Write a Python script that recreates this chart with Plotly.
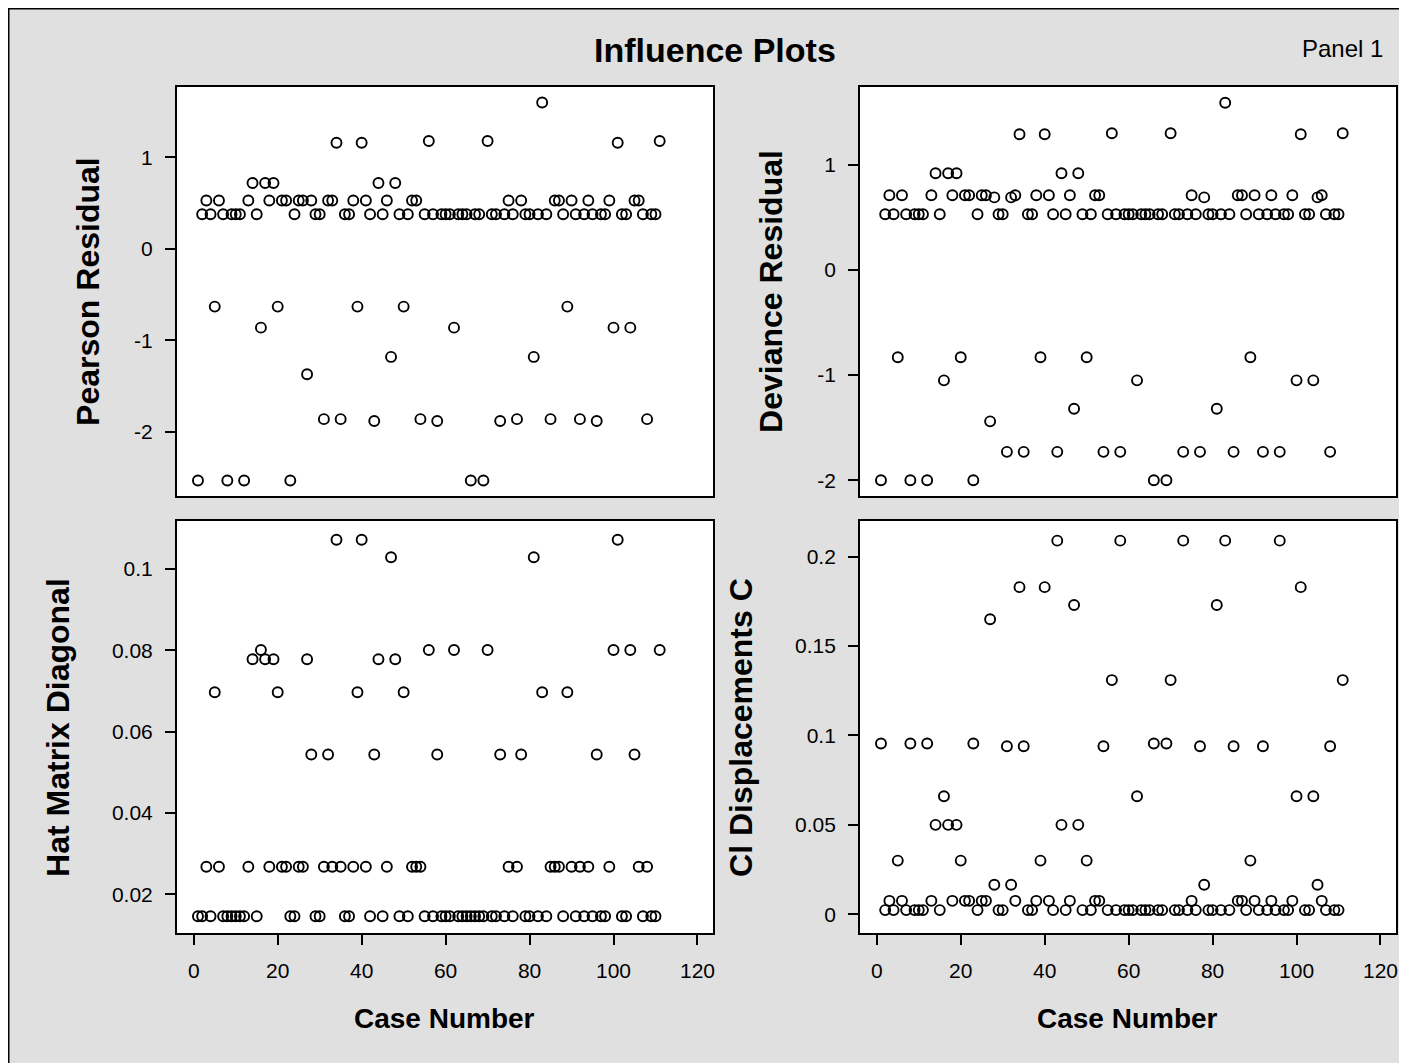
import plotly.graph_objects as go

W, H = 1407, 1063

case_number = list(range(1, 112))

pearson_residual = [
    -2.53, 0.38, 0.53, 0.38, -0.63, 0.53, 0.38, -2.53, 0.38, 0.38,
    0.38, -2.53, 0.53, 0.72, 0.38, -0.86, 0.72, 0.53, 0.72, -0.63,
    0.53, 0.53, -2.53, 0.38, 0.53, 0.53, -1.37, 0.53, 0.38, 0.38,
    -1.86, 0.53, 0.53, 1.16, -1.86, 0.38, 0.38, 0.53, -0.63, 1.16,
    0.53, 0.38, -1.88, 0.72, 0.38, 0.53, -1.18, 0.72, 0.38, -0.63,
    0.38, 0.53, 0.53, -1.86, 0.38, 1.18, 0.38, -1.88, 0.38, 0.38,
    0.38, -0.86, 0.38, 0.38, 0.38, -2.53, 0.38, 0.38, -2.53, 1.18,
    0.38, 0.38, -1.88, 0.38, 0.53, 0.38, -1.86, 0.53, 0.38, 0.38,
    -1.18, 0.38, 1.60, 0.38, -1.86, 0.53, 0.53, 0.38, -0.63, 0.53,
    0.38, -1.86, 0.38, 0.53, 0.38, -1.88, 0.38, 0.38, 0.53, -0.86,
    1.16, 0.38, 0.38, -0.86, 0.53, 0.53, 0.38, -1.86, 0.38, 0.38, 1.18,
]

deviance_residual = [
    -2.00, 0.53, 0.71, 0.53, -0.83, 0.71, 0.53, -2.00, 0.53, 0.53,
    0.53, -2.00, 0.71, 0.92, 0.53, -1.05, 0.92, 0.71, 0.92, -0.83,
    0.71, 0.71, -2.00, 0.53, 0.71, 0.71, -1.44, 0.69, 0.53, 0.53,
    -1.73, 0.69, 0.71, 1.29, -1.73, 0.53, 0.53, 0.71, -0.83, 1.29,
    0.71, 0.53, -1.73, 0.92, 0.53, 0.71, -1.32, 0.92, 0.53, -0.83,
    0.53, 0.71, 0.71, -1.73, 0.53, 1.30, 0.53, -1.73, 0.53, 0.53,
    0.53, -1.05, 0.53, 0.53, 0.53, -2.00, 0.53, 0.53, -2.00, 1.30,
    0.53, 0.53, -1.73, 0.53, 0.71, 0.53, -1.73, 0.69, 0.53, 0.53,
    -1.32, 0.53, 1.59, 0.53, -1.73, 0.71, 0.71, 0.53, -0.83, 0.71,
    0.53, -1.73, 0.53, 0.71, 0.53, -1.73, 0.53, 0.53, 0.71, -1.05,
    1.29, 0.53, 0.53, -1.05, 0.69, 0.71, 0.53, -1.73, 0.53, 0.53, 1.30,
]

hat_diagonal = [
    0.0146, 0.0146, 0.0268, 0.0146, 0.0697, 0.0268, 0.0146, 0.0146, 0.0146, 0.0146,
    0.0146, 0.0146, 0.0268, 0.0778, 0.0146, 0.0801, 0.0778, 0.0268, 0.0778, 0.0697,
    0.0268, 0.0268, 0.0146, 0.0146, 0.0268, 0.0268, 0.0778, 0.0544, 0.0146, 0.0146,
    0.0268, 0.0544, 0.0268, 0.1072, 0.0268, 0.0146, 0.0146, 0.0268, 0.0697, 0.1072,
    0.0268, 0.0146, 0.0544, 0.0778, 0.0146, 0.0268, 0.1029, 0.0778, 0.0146, 0.0697,
    0.0146, 0.0268, 0.0268, 0.0268, 0.0146, 0.0801, 0.0146, 0.0544, 0.0146, 0.0146,
    0.0146, 0.0801, 0.0146, 0.0146, 0.0146, 0.0146, 0.0146, 0.0146, 0.0146, 0.0801,
    0.0146, 0.0146, 0.0544, 0.0146, 0.0268, 0.0146, 0.0268, 0.0544, 0.0146, 0.0146,
    0.1029, 0.0146, 0.0697, 0.0146, 0.0268, 0.0268, 0.0268, 0.0146, 0.0697, 0.0268,
    0.0146, 0.0268, 0.0146, 0.0268, 0.0146, 0.0544, 0.0146, 0.0146, 0.0268, 0.0801,
    0.1072, 0.0146, 0.0146, 0.0801, 0.0544, 0.0268, 0.0146, 0.0268, 0.0146, 0.0146, 0.0801,
]

ci_displacement_c = [
    0.0955, 0.0023, 0.0075, 0.0023, 0.030, 0.0075, 0.0023, 0.0955, 0.0023, 0.0023,
    0.0023, 0.0955, 0.0075, 0.050, 0.0023, 0.066, 0.050, 0.0075, 0.050, 0.030,
    0.0075, 0.0075, 0.0955, 0.0023, 0.0075, 0.0075, 0.165, 0.0165, 0.0023, 0.0023,
    0.094, 0.0165, 0.0075, 0.183, 0.094, 0.0023, 0.0023, 0.0075, 0.030, 0.183,
    0.0075, 0.0023, 0.209, 0.050, 0.0023, 0.0075, 0.173, 0.050, 0.0023, 0.030,
    0.0023, 0.0075, 0.0075, 0.094, 0.0023, 0.131, 0.0023, 0.209, 0.0023, 0.0023,
    0.0023, 0.066, 0.0023, 0.0023, 0.0023, 0.0955, 0.0023, 0.0023, 0.0955, 0.131,
    0.0023, 0.0023, 0.209, 0.0023, 0.0075, 0.0023, 0.094, 0.0165, 0.0023, 0.0023,
    0.173, 0.0023, 0.209, 0.0023, 0.094, 0.0075, 0.0075, 0.0023, 0.030, 0.0075,
    0.0023, 0.094, 0.0023, 0.0075, 0.0023, 0.209, 0.0023, 0.0023, 0.0075, 0.066,
    0.183, 0.0023, 0.0023, 0.066, 0.0165, 0.0075, 0.0023, 0.094, 0.0023, 0.0023, 0.131,
]

x_ticks = [0, 20, 40, 60, 80, 100, 120]
resid_ticks = [-2, -1, 0, 1]
resid_ticklabels = ["-2", "-1", "0", "1"]
hat_ticks = [0.02, 0.04, 0.06, 0.08, 0.1]
hat_ticklabels = ["0.02", "0.04", "0.06", "0.08", "0.1"]
c_ticks = [0, 0.05, 0.1, 0.15, 0.2]
c_ticklabels = ["0", "0.05", "0.1", "0.15", "0.2"]

FONT = "Liberation Sans, Arial, Helvetica, sans-serif"
BG = "#e0e0e0"


def px_x(p):
    return p / W


def px_y(p):
    return 1 - p / H


# panel pixel boxes in figure coordinates (left, right, top, bottom)
L1, R1 = 169, 706
L2, R2 = 853, 1390
T1, B1 = 79, 488
T2, B2 = 513, 925

fig = go.Figure()

marker = dict(symbol="circle-open", size=10, color="black", line=dict(width=1.9, color="black"))

panels = [
    ("x", "y", pearson_residual),
    ("x2", "y2", deviance_residual),
    ("x3", "y3", hat_diagonal),
    ("x4", "y4", ci_displacement_c),
]
for xa, ya, vals in panels:
    fig.add_trace(go.Scatter(x=case_number, y=vals, mode="markers", marker=marker,
                             xaxis=xa, yaxis=ya, showlegend=False, hoverinfo="x+y"))

axis_common = dict(showgrid=False, zeroline=False, showline=True, mirror=True,
                   linecolor="black", linewidth=1.5,
                   tickfont=dict(family=FONT, size=21, color="black"),
                   tickcolor="black", ticklen=10, tickwidth=1.5, ticklabelstandoff=8)

xr = [-4.05, 123.7]
fig.update_layout(
    width=W, height=H, autosize=False,
    margin=dict(l=0, r=0, t=0, b=0, pad=0),
    paper_bgcolor=BG, plot_bgcolor="white",
    xaxis=dict(domain=[px_x(L1), px_x(R1)], range=xr, anchor="y",
               showticklabels=False, ticks="", **axis_common),
    yaxis=dict(domain=[px_y(B1), px_y(T1)], range=[-2.70, 1.77], anchor="x",
               tickvals=resid_ticks, ticktext=resid_ticklabels, ticks="outside", **axis_common),
    xaxis2=dict(domain=[px_x(L2), px_x(R2)], range=xr, anchor="y2",
                showticklabels=False, ticks="", **axis_common),
    yaxis2=dict(domain=[px_y(B1), px_y(T1)], range=[-2.15, 1.74], anchor="x2",
                tickvals=resid_ticks, ticktext=resid_ticklabels, ticks="outside", **axis_common),
    xaxis3=dict(domain=[px_x(L1), px_x(R1)], range=xr, anchor="y3",
                tickvals=x_ticks, ticks="outside", **axis_common),
    yaxis3=dict(domain=[px_y(B2), px_y(T2)], range=[0.0105, 0.1118], anchor="x3",
                tickvals=hat_ticks, ticktext=hat_ticklabels, ticks="outside", **axis_common),
    xaxis4=dict(domain=[px_x(L2), px_x(R2)], range=xr, anchor="y4",
                tickvals=x_ticks, ticks="outside", **axis_common),
    yaxis4=dict(domain=[px_y(B2), px_y(T2)], range=[-0.0105, 0.22], anchor="x4",
                tickvals=c_ticks, ticktext=c_ticklabels, ticks="outside", **axis_common),
)

# outer chart border (left and top edges visible in the window)
fig.add_shape(type="line", xref="paper", yref="paper", x0=0, x1=1, y0=px_y(0.75), y1=px_y(0.75),
              line=dict(color="black", width=1.5))
fig.add_shape(type="line", xref="paper", yref="paper", x0=px_x(0.75), x1=px_x(0.75), y0=0, y1=1,
              line=dict(color="black", width=1.5))

ann = []
ann.append(dict(text="<b>Influence Plots</b>", x=px_x(708), y=px_y(42), xref="paper", yref="paper",
                showarrow=False, font=dict(family=FONT, size=34, color="black"),
                xanchor="center", yanchor="middle"))
ann.append(dict(text="Panel 1", x=px_x(1336), y=px_y(41), xref="paper", yref="paper",
                showarrow=False, font=dict(family=FONT, size=24, color="black"),
                xanchor="center", yanchor="middle"))
for txt, xpx, ypx in [("Pearson Residual", 80, 283), ("Deviance Residual", 764, 283),
                      ("Hat Matrix Diagonal", 50, 719), ("Cl Displacements C", 734, 719)]:
    ann.append(dict(text="<b>" + txt + "</b>", x=px_x(xpx), y=px_y(ypx), xref="paper", yref="paper",
                    showarrow=False, textangle=-90, font=dict(family=FONT, size=32, color="black"),
                    xanchor="center", yanchor="middle"))
for xpx in [(L1 + R1) / 2, (L2 + R2) / 2]:
    ann.append(dict(text="<b>Case Number</b>", x=px_x(xpx), y=px_y(1010), xref="paper", yref="paper",
                    showarrow=False, font=dict(family=FONT, size=28, color="black"),
                    xanchor="center", yanchor="middle"))
fig.update_layout(annotations=ann)

fig.write_html("out.html")
